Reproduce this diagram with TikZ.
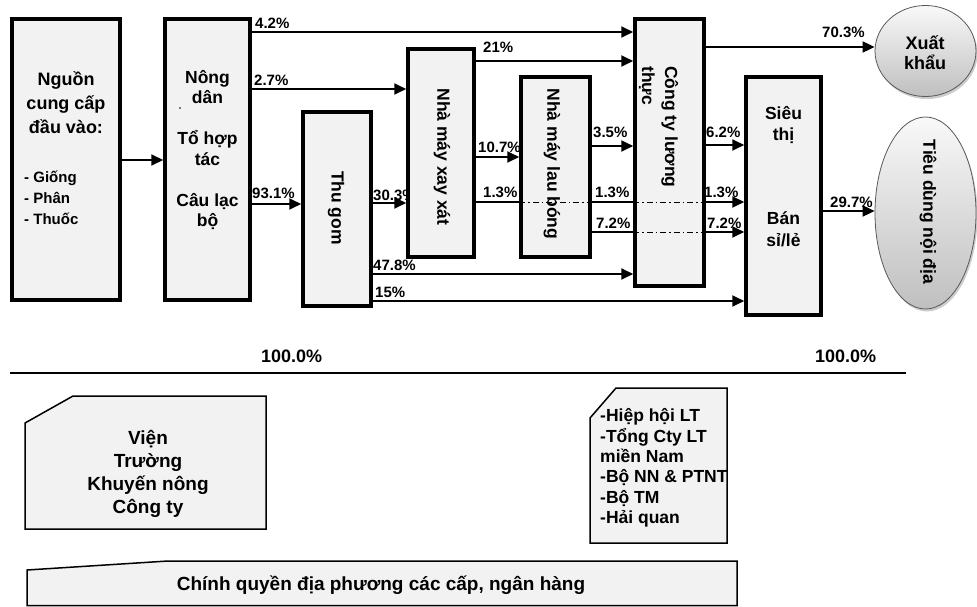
\documentclass[tikz,border=0pt]{standalone}
\usepackage{fontspec}
\setmainfont{Liberation Sans}
\usetikzlibrary{arrows.meta,shapes.geometric,shadows}
\pgfdeclarelayer{bg}
\pgfsetlayers{bg,main}
\definecolor{boxgray}{RGB}{242,242,242}
\newcommand\fsz[2]{\fontsize{#1}{#2}\selectfont\bfseries}
\begin{document}
\begin{tikzpicture}[x=1pt,y=-1pt,
  box/.style={draw, line width=3.5pt, fill=boxgray, inner sep=0pt,
    drop shadow={shadow xshift=2pt,shadow yshift=-2pt,fill=black,opacity=0.25}},
  oval/.style={ellipse, draw=gray!70!black, line width=0.8pt, top color=gray!5,
    bottom color=gray!50, inner sep=0pt,
    drop shadow={shadow xshift=1.5pt,shadow yshift=-2.5pt,fill=black,opacity=0.2}},
  arr/.style={line width=1.8pt, -{Triangle[length=12pt,width=11pt]}},
  ln/.style={line width=1.2pt},
  dd/.style={line width=1pt, dash pattern=on 6pt off 3pt on 1.5pt off 3pt},
  txt/.style={inner sep=0pt},
  pct/.style={font=\fsz{15}{17}, inner sep=0pt, anchor=base west},
  big/.style={font=\fsz{17.5}{20.5}, inner sep=0pt},
  panel/.style={draw, line width=1.5pt, fill=boxgray}
]
\useasboundingbox (0,0) rectangle (977,607);
\begin{pgfonlayer}{bg}
\fill[white] (0,0) rectangle (977,607);
\node[pct] (p303) at (373,200) {30.3\%};
\node[pct] (p107) at (478,153) {10.7\%};
\node[pct] (p13c) at (704,197) {1.3\%};
\end{pgfonlayer}

% main boxes
\node[box, minimum width=108pt, minimum height=281pt] (src) at (66,159.5) {};
\node[box, minimum width=85pt, minimum height=281pt] (farm) at (207.5,159.5) {};
\node[box, minimum width=68pt, minimum height=194pt] (thugom) at (337,209) {};
\node[box, minimum width=66pt, minimum height=208pt] (xayxat) at (441,153) {};
\node[box, minimum width=69pt, minimum height=180pt] (laubong) at (555.5,167) {};
\node[box, minimum width=69pt, minimum height=267pt] (cty) at (669.5,152.5) {};
\node[box, minimum width=75pt, minimum height=238pt] (sieuthi) at (783.5,196) {};
\node[oval, minimum width=101pt, minimum height=91pt] (xk) at (925.5,51) {};
\node[oval, minimum width=101pt, minimum height=192pt] (td) at (925.5,213) {};

% texts in boxes
\node[txt, font=\fsz{18}{24}, align=center] (srct) at (66,103) {Nguồn\\cung cấp\\đầu vào:};
\node[txt, font=\fsz{15}{21}, align=left, anchor=west] (srcl) at (24,198) {- Giống\\- Phân\\- Thuốc};
\node[big, align=center] (farmt) at (207.5,150) {Nông\\dân\\[20.5pt]Tổ hợp\\tác\\[20.5pt]Câu lạc\\bộ};
\fill (180,108) circle (0.8pt);
\node[big, rotate=-90] (thugomt) at (336,208) {Thu gom};
\node[big, rotate=-90] (xayxatt) at (442,157) {Nhà máy xay xát};
\node[big, rotate=-90] (laubongt) at (552,164) {Nhà máy lau bóng};
\node[font=\fsz{17.5}{23}, inner sep=0pt, rotate=-90, align=left, anchor=west] (ctyt) at (658.5,66) {Công ty lương\\thực};
\node[big, align=center] (sieuthit) at (783.5,125) {Siêu\\thị};
\node[font=\fsz{17.5}{22}, inner sep=0pt, align=center] (bant) at (783.5,229) {Bán\\sỉ/lẻ};
\node[font=\fsz{18}{20}, inner sep=0pt, align=center] (xkt) at (925,53) {Xuất\\khẩu};
\node[big, rotate=-90] (tdt) at (928,212) {Tiêu dùng nội địa};

% connectors
\draw[arr] (src.east |- 0,160) -- (farm.west |- 0,160);
\draw[arr] (farm.east |- 0,32) -- (cty.west |- 0,32);
\draw[arr] (farm.east |- 0,89) -- (xayxat.west |- 0,89);
\draw[arr] (farm.east |- 0,204) -- (thugom.west |- 0,204);
\draw[arr] (xayxat.east |- 0,61) -- (cty.west |- 0,61);
\draw[arr] (thugom.east |- 0,203) -- (xayxat.west |- 0,203);
\draw[arr] (xayxat.east |- 0,157) -- (laubong.west |- 0,157);
\draw[ln] (xayxat.east |- 0,202) -- (laubong.west |- 0,202);
\draw[dd] (laubong.west |- 0,202) -- (laubong.east |- 0,202);
\draw[ln] (laubong.east |- 0,202) -- (cty.west |- 0,202);
\draw[dd] (cty.west |- 0,202) -- (cty.east |- 0,202);
\draw[arr] (cty.east |- 0,202) -- (sieuthi.west |- 0,202);
\draw[arr] (laubong.east |- 0,146) -- (cty.west |- 0,146);
\draw[ln] (laubong.east |- 0,232) -- (cty.west |- 0,232);
\draw[dd] (cty.west |- 0,232) -- (cty.east |- 0,232);
\draw[arr] (cty.east |- 0,232) -- (sieuthi.west |- 0,232);
\draw[arr] (cty.east |- 0,145) -- (sieuthi.west |- 0,145);
\draw[arr] (thugom.east |- 0,274) -- (cty.west |- 0,274);
\draw[arr] (thugom.east |- 0,301) -- (sieuthi.west |- 0,301);
\draw[arr] (cty.east |- 0,47) -- (xk.west |- 0,47);
\draw[arr] (sieuthi.east |- 0,211) -- (td.west |- 0,211);

% percentage labels
\node[pct] (p42) at (255,29) {4.2\%};
\node[pct] (p27) at (254,85.5) {2.7\%};
\node[pct] (p931) at (252,198) {93.1\%};
\node[pct] (p21) at (483,53) {21\%};
\node[pct] (p13a) at (483,197) {1.3\%};
\node[pct] (p35) at (593,138) {3.5\%};
\node[pct] (p13b) at (595,197) {1.3\%};
\node[pct] (p72a) at (596,228) {7.2\%};
\node[pct] (p478) at (373,270) {47.8\%};
\node[pct] (p15) at (375,297) {15\%};
\node[pct] (p703) at (822,38) {70.3\%};
\node[pct] (p62) at (706,138) {6.2\%};
\node[pct] (p72b) at (707,228) {7.2\%};
\node[pct] (p297) at (830,207) {29.7\%};
\node[pct, font=\fsz{18}{20}] (t1) at (261,362) {100.0\%};
\node[pct, font=\fsz{18}{20}] (t2) at (815,362) {100.0\%};

\draw[line width=1.3pt] (10,373) -- (906,373);

% bottom panels
\draw[panel] (25,423) -- (73,396) -- (266,396) -- (266,529) -- (25,529) -- cycle;
\node[txt, font=\fsz{19}{23}, align=center] (vien) at (148,474) {Viện\\Trường\\Khuyến nông\\Công ty};
\draw[panel] (590,418) -- (616,388) -- (727,388) -- (727,543) -- (590,543) -- cycle;
\node[txt, font=\fsz{17.5}{20.4}, align=left, anchor=west] (hh) at (600,468) {-Hiệp hội LT\\-Tổng Cty LT\\miền Nam\\-Bộ NN \& PTNT\\-Bộ TM\\-Hải quan};
\draw[panel] (27,570) -- (168,561) -- (737,561) -- (737,605.5) -- (27,605.5) -- cycle;
\node[txt, font=\fsz{19}{23}] (cq) at (381,585) {Chính quyền địa phương các cấp, ngân hàng};
\end{tikzpicture}
\end{document}
